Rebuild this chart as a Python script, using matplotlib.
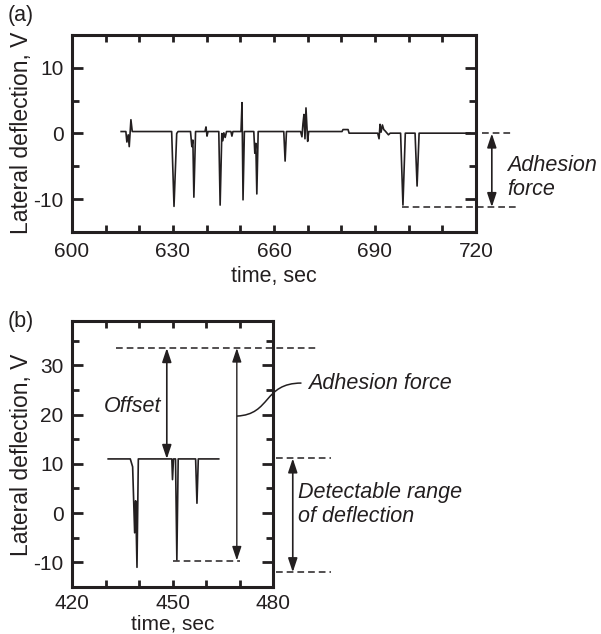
import matplotlib
matplotlib.use('Agg')
import matplotlib.pyplot as plt
from matplotlib.path import Path
from matplotlib.patches import PathPatch
from matplotlib.ticker import MultipleLocator

plt.rcParams['font.family'] = ['Liberation Sans', 'DejaVu Sans']
plt.rcParams['axes.unicode_minus'] = False

# ---- data, panel (a) ----
time_a = [614.6, 616.0, 616.3, 616.7, 617.0, 617.5, 617.9, 629.6, 630.3, 631.1, 631.5,
          635.2, 635.6, 635.9, 636.2, 636.7, 639.5, 639.8, 640.1, 640.4,
          643.6, 644.0, 644.5, 644.8, 645.1, 645.5, 645.9, 647.2, 647.5, 647.8,
          650.2, 650.5, 650.8, 651.2, 654.0, 654.3, 654.6, 654.9, 655.3,
          662.9, 663.3, 663.7, 667.9, 668.3, 668.6, 668.9, 669.2, 669.5, 670.0, 670.3,
          680.2, 680.5, 682.0, 682.3, 690.8, 691.2, 691.5, 691.8, 692.2, 692.6, 693.0,
          693.5, 694.0, 694.5, 697.6, 698.3, 699.0, 701.9, 702.5, 703.1, 718.2]
defl_a = [0.3, 0.3, -1.3, -0.2, -2.0, 2.1, 0.3, 0.3, -11.1, 0.0, 0.3,
          0.3, -2.0, -1.0, -9.7, 0.3, 0.3, 1.0, -0.4, 0.3,
          0.3, -10.9, 0.0, -1.1, 0.1, -0.6, 0.3, 0.3, -0.4, 0.3,
          0.3, 4.7, -10.1, 0.3, 0.3, -3.0, -1.5, -9.2, 0.3,
          0.3, -4.2, 0.3, 0.3, -0.5, 1.5, 2.9, -0.8, 3.9, -1.2, 0.3,
          0.3, 0.6, 0.6, 0.05, 0.05, -0.8, 1.4, 0.2, 1.3, 0.6, 0.4,
          0.1, -0.2, 0.05, 0.05, -10.9, 0.05, 0.05, -8.0, 0.05, 0.05]

# ---- data, panel (b) ----
time_b = [430.8, 437.4, 438.1, 438.7, 439.0, 439.4, 439.8, 449.8, 450.0, 450.3,
          450.9, 451.3, 451.7, 456.9, 457.3, 457.7, 463.8]
defl_b = [11.0, 11.0, 9.4, -4.0, 2.5, -11.0, 11.0, 11.0, 6.8, 11.0,
          11.0, -9.5, 11.0, 11.0, 2.0, 11.0, 11.0]

xticks_a = [600, 630, 660, 690, 720]
yticks_a = [-10, 0, 10]
xticks_b = [420, 450, 480]
yticks_b = [-10, 0, 10, 20, 30]

fig = plt.figure(figsize=(6.01, 6.34), dpi=100)
ax_a = fig.add_axes([72 / 601, 1 - 232 / 634, 404 / 601, 197 / 634])
ax_b = fig.add_axes([72 / 601, 1 - 587 / 634, 201 / 601, 266 / 634])


def style_axes(ax, xticks, yticks, xminor, yminor, xpad=7):
    for s in ax.spines.values():
        s.set_linewidth(2.2)
        s.set_color('#231f20')
    ax.set_xticks(xticks)
    ax.set_yticks(yticks)
    ax.xaxis.set_minor_locator(MultipleLocator(xminor))
    ax.yaxis.set_minor_locator(MultipleLocator(yminor))
    ax.tick_params(which='both', direction='in', top=True, right=True,
                   width=2.0, color='#231f20', labelsize=15, labelcolor='#231f20')
    ax.tick_params(axis='x', which='both', length=5, pad=xpad)
    ax.tick_params(axis='y', which='major', length=8, pad=6)
    ax.tick_params(axis='y', which='minor', length=5)


dash = dict(color='#231f20', lw=1.1, dashes=(4.4, 2.6), clip_on=False)
arrow = dict(arrowstyle='<|-|>,head_length=0.6,head_width=0.2', color='#231f20',
             lw=1.2, mutation_scale=14, shrinkA=0, shrinkB=0)
txt = dict(fontsize=15.5, style='italic', color='#231f20')

# panel (a)
ax_a.plot(time_a, defl_a, color='#231f20', lw=1.2)
ax_a.set_xlim(600, 720)
ax_a.set_ylim(-15, 15)
style_axes(ax_a, xticks_a, yticks_a, 10, 5)
ax_a.plot([721.8, 731.0], [0, 0], **dash)
ax_a.plot([698.0, 731.9], [-11.2, -11.2], **dash)
ax_a.annotate('', xy=(724.7, 0), xytext=(724.7, -11.2), arrowprops=arrow,
              annotation_clip=False)
ax_a.text(729.2, -4.8, 'Adhesion', ha='left', va='center', **txt)
ax_a.text(729.2, -8.5, 'force', ha='left', va='center', **txt)

# panel (b)
ax_b.plot(time_b, defl_b, color='#231f20', lw=1.2)
ax_b.set_xlim(420, 480)
ax_b.set_ylim(-15, 39)
style_axes(ax_b, xticks_b, yticks_b, 10, 5, xpad=5)
ax_b.plot([433.2, 493.8], [33.5, 33.5], **dash)
ax_b.plot([450.2, 470.0], [-9.8, -9.8], **dash)
ax_b.plot([480.8, 497.2], [11.1, 11.1], **dash)
ax_b.plot([480.8, 497.2], [-12.0, -12.0], **dash)
ax_b.annotate('', xy=(448.3, 33.5), xytext=(448.3, 11.0), arrowprops=arrow,
              annotation_clip=False)
ax_b.annotate('', xy=(469.2, 33.5), xytext=(469.2, -9.6),
              arrowprops=dict(arrow, lw=1.0), annotation_clip=False)
ax_b.annotate('', xy=(485.9, 11.1), xytext=(485.9, -12.0), arrowprops=arrow,
              annotation_clip=False)
leader = Path([(469.2, 19.7), (479.5, 20.0), (477.0, 26.4), (488.5, 26.4)],
              [Path.MOVETO, Path.CURVE4, Path.CURVE4, Path.CURVE4])
ax_b.add_patch(PathPatch(leader, fc='none', ec='#231f20', lw=1.1, clip_on=False))
ax_b.text(446.8, 21.6, 'Offset', ha='right', va='center', **txt)
ax_b.text(490.4, 26.3, 'Adhesion force', ha='left', va='center', **txt)
ax_b.text(487.6, 4.2, 'Detectable range', ha='left', va='center', **txt)
ax_b.text(487.6, -0.7, 'of deflection', ha='left', va='center', **txt)

# labels
lab = dict(fontsize=15.5, color='#231f20')
fig.text(22 / 601, 1 - 133 / 634, 'Lateral deflection, V', rotation=90,
         ha='center', va='center', fontsize=16.5, color='#231f20')
fig.text(22 / 601, 1 - 455 / 634, 'Lateral deflection, V', rotation=90,
         ha='center', va='center', fontsize=16.5, color='#231f20')
fig.text(274 / 601, 1 - 277 / 634, 'time, sec', ha='center', va='center', **lab)
fig.text(173 / 601, 4 / 634, 'time, sec', ha='center', va='baseline',
         fontsize=15, color='#231f20')
fig.text(8 / 601, 1 - 16 / 634, '(a)', ha='left', va='center', **lab)
fig.text(8 / 601, 1 - 322 / 634, '(b)', ha='left', va='center', **lab)

fig.savefig('out.png', dpi=100)
